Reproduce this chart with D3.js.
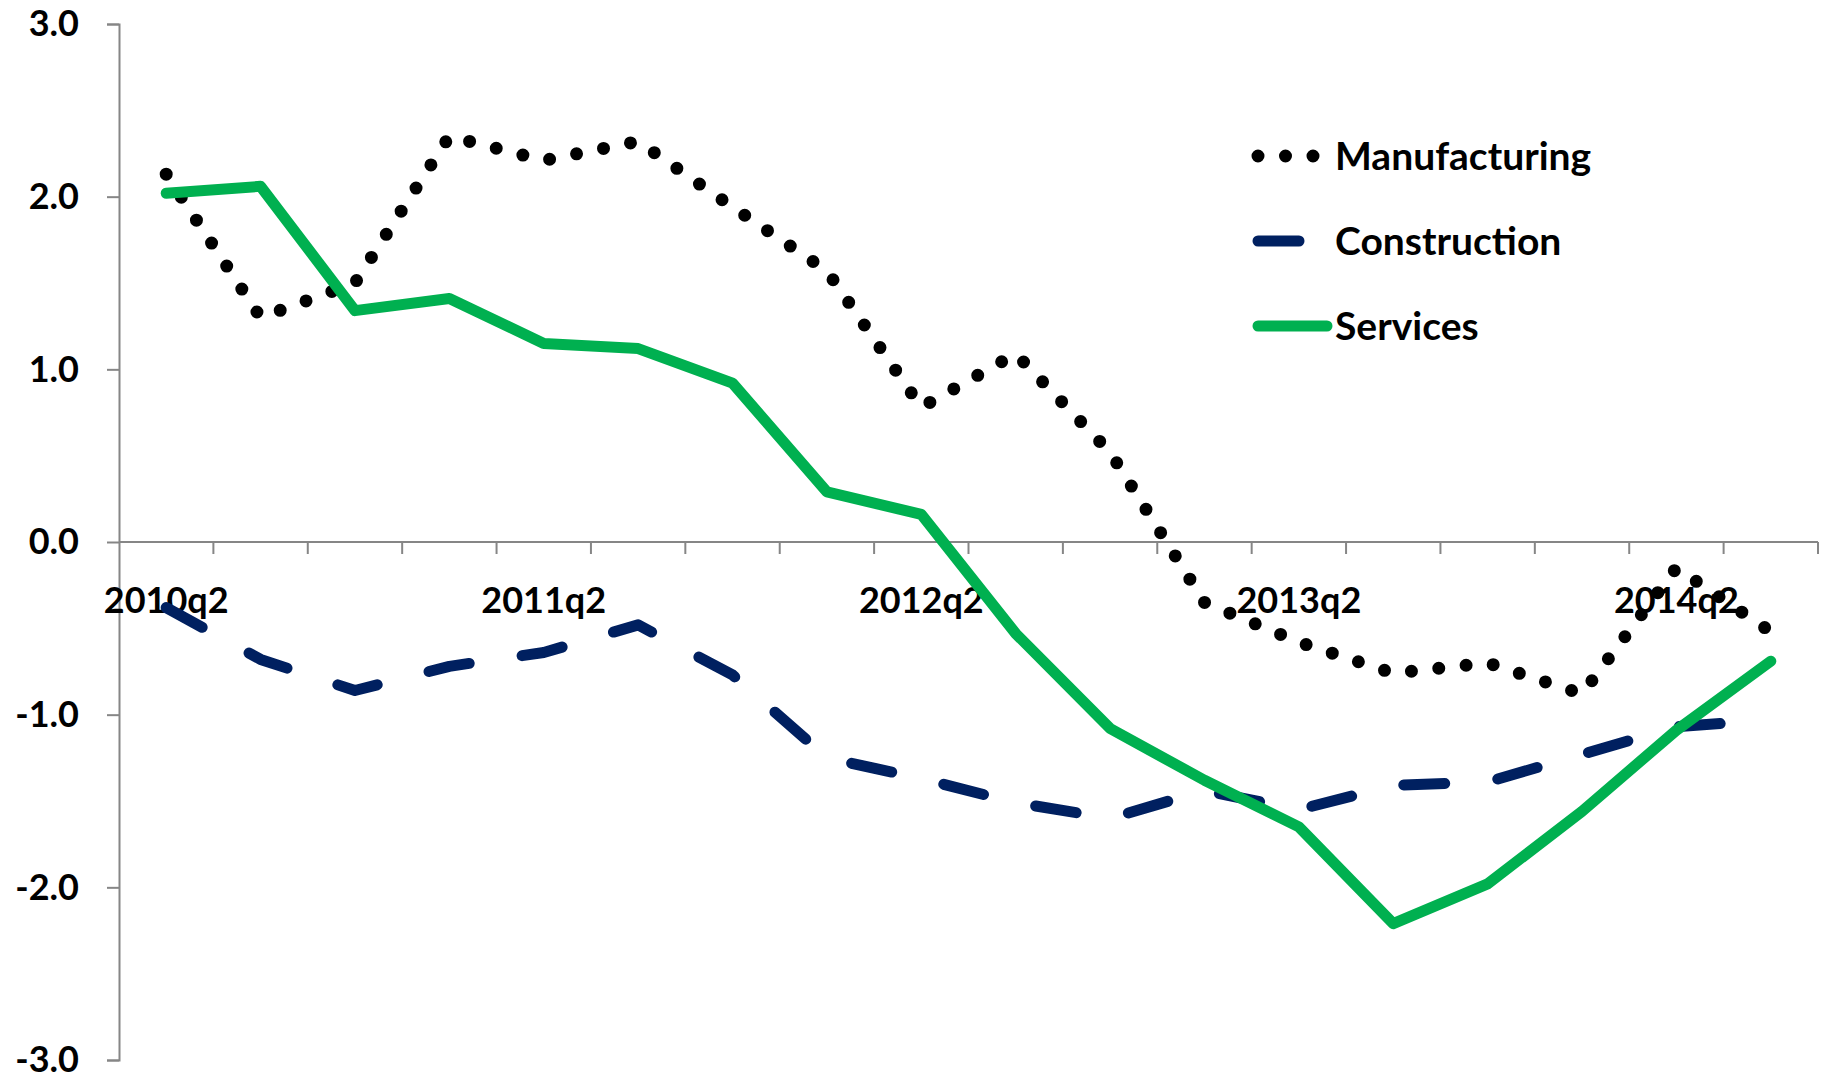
<!DOCTYPE html>
<html>
<head>
<meta charset="utf-8">
<script src="https://cdnjs.cloudflare.com/ajax/libs/d3/7.8.5/d3.min.js"></script>
<style>
  body { margin: 0; background: #fff; }
  text { font-family: Lato, "Open Sans", sans-serif; font-weight: bold; fill: #000; }
</style>
</head>
<body>
<script>
const quarters = ["2010q2","2010q3","2010q4","2011q1","2011q2","2011q3","2011q4","2012q1","2012q2",
                  "2012q3","2012q4","2013q1","2013q2","2013q3","2013q4","2014q1","2014q2","2014q3"];
const manufacturing = [2.13, 1.30, 1.50, 2.35, 2.21, 2.32, 1.94, 1.57, 0.78, 1.09, 0.52, -0.35, -0.58, -0.76, -0.70, -0.88, -0.15, -0.52];
const construction  = [-0.38, -0.68, -0.86, -0.72, -0.64, -0.48, -0.77, -1.25, -1.37, -1.51, -1.60, -1.44, -1.55, -1.41, -1.39, -1.23, -1.07, -1.03];
const services      = [2.02, 2.06, 1.34, 1.41, 1.15, 1.12, 0.92, 0.29, 0.16, -0.53, -1.08, -1.38, -1.65, -2.21, -1.98, -1.56, -1.09, -0.69];
const yTicks = [-3, -2, -1, 0, 1, 2, 3];
const xLabels = ["2010q2","2011q2","2012q2","2013q2","2014q2"];

const width = 1832, height = 1076;
const margin = {left: 119, right: 14, top: 24, bottom: 16};

const svg = d3.select("body").append("svg")
    .attr("width", width)
    .attr("height", height);

const x = d3.scaleBand()
    .domain(quarters)
    .range([margin.left, width - margin.right])
    .padding(0);

const y = d3.scaleLinear()
    .domain([-3, 3])
    .range([height - margin.bottom, margin.top]);

const cx = d => x(d) + x.bandwidth() / 2;

// y axis (hyphen minus like the original)
const yAxis = svg.append("g")
    .attr("transform", `translate(${margin.left},0)`)
    .call(d3.axisLeft(y).tickValues(yTicks).tickFormat(d => d.toFixed(1)).tickSize(12).tickPadding(28));
yAxis.select(".domain").attr("stroke", "#868686").attr("stroke-width", 2);
yAxis.selectAll(".tick line").attr("stroke", "#868686").attr("stroke-width", 2);
yAxis.selectAll(".tick text")
    .attr("font-size", 36)
    .attr("font-family", "Lato, sans-serif")
    .attr("font-weight", "bold")
    .attr("fill", "#000")
    .attr("dy", "0.33em");

// x axis at zero
const gx = svg.append("g");
gx.append("line")
    .attr("x1", x.range()[0]).attr("x2", x.range()[1])
    .attr("y1", y(0)).attr("y2", y(0))
    .attr("stroke", "#868686").attr("stroke-width", 2);
const edges = quarters.map(q => x(q)).concat([x.range()[1]]);
gx.selectAll("line.tick")
    .data(edges.slice(1))
    .join("line")
    .attr("class", "tick")
    .attr("x1", d => d).attr("x2", d => d)
    .attr("y1", y(0)).attr("y2", y(0) + 12)
    .attr("stroke", "#868686").attr("stroke-width", 2);
gx.selectAll("text")
    .data(xLabels)
    .join("text")
    .attr("x", d => cx(d))
    .attr("y", y(0) + 71)
    .attr("text-anchor", "middle")
    .attr("font-size", 36)
    .text(d => d);

const line = d3.line()
    .x((d, i) => cx(quarters[i]))
    .y(d => y(d));

const series = [
    {name: "Manufacturing", values: manufacturing, color: "#000000", width: 13, dash: "0 27.5"},
    {name: "Construction", values: construction, color: "#002060", width: 11, dash: "41 53.5"},
    {name: "Services", values: services, color: "#00B050", width: 11, dash: null}
];

svg.selectAll("path.series")
    .data(series)
    .join("path")
    .attr("class", "series")
    .attr("d", d => line(d.values))
    .attr("fill", "none")
    .attr("stroke", d => d.color)
    .attr("stroke-width", d => d.width)
    .attr("stroke-dasharray", d => d.dash)
    .attr("stroke-linecap", "round")
    .attr("stroke-linejoin", "round");

// legend
const legend = svg.append("g").attr("transform", "translate(1258,156)");
const rows = legend.selectAll("g")
    .data(series)
    .join("g")
    .attr("transform", (d, i) => `translate(0,${i * 85})`);
rows.append("line")
    .attr("x1", 0).attr("x2", 69)
    .attr("y1", 0).attr("y2", 0)
    .attr("stroke", d => d.color)
    .attr("stroke-width", d => d.width)
    .attr("stroke-dasharray", d => d.dash)
    .attr("stroke-linecap", "round");
rows.append("text")
    .attr("x", 77)
    .attr("y", 0)
    .attr("dy", "0.35em")
    .attr("font-size", 39)
    .text(d => d.name);
</script>
</body>
</html>
